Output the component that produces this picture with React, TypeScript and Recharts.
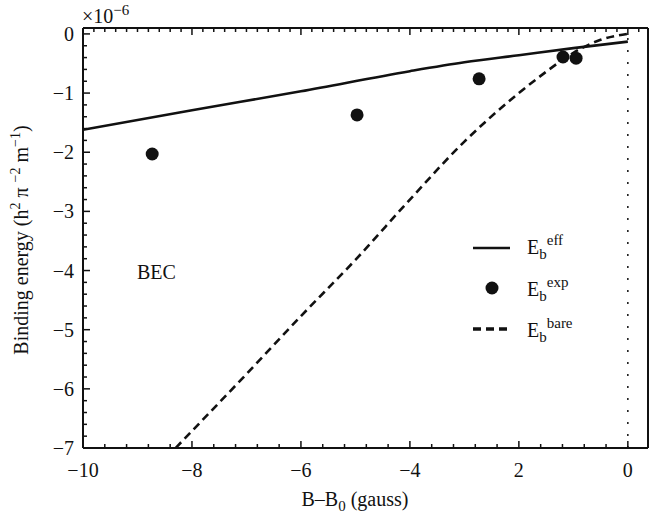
import React from "react";
import { ComposedChart, Line, Scatter, XAxis, YAxis, ReferenceLine } from "recharts";

// ---- data ----
const effX = [-10, -8, -6, -4, -3, -2, -1, 0];
const effY = [-1.62, -1.29, -0.97, -0.63, -0.48, -0.36, -0.24, -0.13];

const bareX = [-8.3, -7, -6, -5, -4, -3, -2, -1.5, -1, -0.5, 0];
const bareY = [-7, -5.75, -4.77, -3.82, -2.8, -1.82, -1.0, -0.64, -0.32, -0.1, 0];

const expX = [-8.73, -4.97, -2.73, -1.19, -0.95];
const expY = [-2.03, -1.37, -0.76, -0.39, -0.41];

const xMajor = [-10, -8, -6, -4, -2, 0];
const xTickLabels = ["\u221210", "\u22128", "\u22126", "\u22124", "2", "0"];
const yMajor = [-7, -6, -5, -4, -3, -2, -1, 0];
const yTickLabels = ["\u22127", "\u22126", "\u22125", "\u22124", "\u22123", "\u22122", "\u22121", "0"];

const X_DOMAIN: [number, number] = [-10, 0.37];
const Y_DOMAIN: [number, number] = [-7, 0.1];

// tick step sets
const steps = (from: number, to: number, step: number) =>
  Array.from({ length: Math.round((to - from) / step) + 1 }, (_, i) => +(from + i * step).toFixed(4));
const xBottomMinor = steps(-10, 0.2, 0.4);
const xTopMinor = steps(-10, 0.2, 0.2);
const yLeftMinor = steps(-7, 0, 0.2);

const effData = effX.map((x, i) => ({ x, y: effY[i] }));
const bareData = bareX.map((x, i) => ({ x, y: bareY[i] }));
const expData = expX.map((x, i) => ({ x, y: expY[i] }));

// ---- layout ----
const W = 650;
const H = 518;
const AX = 1;
const PLOT_TOP = 28;
const PLOT_BOTTOM = 448;
const PLOT_LEFT = 83;
const PLOT_RIGHT = 648;
const M = {
  top: PLOT_TOP - AX,
  right: W - PLOT_RIGHT - AX,
  bottom: H - PLOT_BOTTOM - AX,
  left: PLOT_LEFT - AX,
};
const FONT = "'Liberation Serif', 'Times New Roman', serif";
const INK = "#111";
const TXT: React.CSSProperties = { fontFamily: FONT };

const PX_PER_X = (PLOT_RIGHT - PLOT_LEFT) / (X_DOMAIN[1] - X_DOMAIN[0]);
const PX_PER_Y = (PLOT_BOTTOM - PLOT_TOP) / (Y_DOMAIN[1] - Y_DOMAIN[0]);
const MAJ = 7;
const MIN = 4;
const TW = 1.5;

const isMajor = (arr: number[], v: number) => arr.some((m) => Math.abs(m - v) < 1e-6);
const majorIndex = (arr: number[], v: number) => arr.findIndex((m) => Math.abs(m - v) < 1e-6);

const BottomLabel = (props: any) => {
  const idx = majorIndex(xMajor, props.payload.value);
  if (idx < 0) return <g />;
  return (
    <text x={Number(props.x)} y={PLOT_BOTTOM + 29} textAnchor="middle" style={TXT} fontSize={20} fill={INK}>
      {xTickLabels[idx]}
    </text>
  );
};

const LeftLabel = (props: any) => {
  const idx = majorIndex(yMajor, props.payload.value);
  if (idx < 0) return <g />;
  return (
    <text x={PLOT_LEFT - 9} y={Number(props.y) + 7} textAnchor="end" style={TXT} fontSize={20} fill={INK}>
      {yTickLabels[idx]}
    </text>
  );
};

const Dot = (props: any) => {
  const { cx, cy } = props;
  return <circle cx={cx} cy={cy} r={6.5} fill={INK} />;
};

const tickLine = (key: string, a: { x: number; y: number }, b: { x: number; y: number }) => (
  <Line
    key={key}
    data={[a, b]}
    dataKey="y"
    type="linear"
    stroke={INK}
    strokeWidth={TW}
    dot={false}
    activeDot={false}
    legendType="none"
    isAnimationActive={false}
  />
);

export default function App() {
  const uniq = (a: number[]) => Array.from(new Set(a));
  const bottomTicks = uniq([...xBottomMinor, ...xMajor]).map((v) => {
    const len = (isMajor(xMajor, v) ? MAJ : MIN) / PX_PER_Y;
    return tickLine("b" + v, { x: v, y: Y_DOMAIN[0] }, { x: v, y: Y_DOMAIN[0] + len });
  });
  const topTicks = uniq([...xTopMinor, ...xMajor]).map((v) => {
    const len = (isMajor(xMajor, v) ? MAJ : MIN) / PX_PER_Y;
    return tickLine("t" + v, { x: v, y: Y_DOMAIN[1] }, { x: v, y: Y_DOMAIN[1] - len });
  });
  const leftTicks = uniq([...yLeftMinor, ...yMajor]).map((v) => {
    const len = (isMajor(yMajor, v) ? MAJ : MIN) / PX_PER_X;
    return tickLine("l" + v, { x: X_DOMAIN[0], y: v }, { x: X_DOMAIN[0] + len, y: v });
  });

  return (
    <div style={{ position: "relative", width: W, height: H, background: "#fff" }}>
      <style>{"body{margin:0;background:#fff}"}</style>
      <ComposedChart width={W} height={H} margin={M}>
        <XAxis
          xAxisId={0}
          dataKey="x"
          type="number"
          domain={X_DOMAIN}
          allowDataOverflow
          ticks={xMajor}
          interval={0}
          height={AX}
          tickLine={false}
          tickSize={0}
          tickMargin={0}
          tick={<BottomLabel />}
          axisLine={{ stroke: INK, strokeWidth: 2 }}
        />
        <XAxis
          xAxisId="top"
          orientation="top"
          type="number"
          domain={X_DOMAIN}
          allowDataOverflow
          height={AX}
          tick={false}
          tickLine={false}
          axisLine={{ stroke: INK, strokeWidth: 2 }}
        />
        <YAxis
          yAxisId={0}
          dataKey="y"
          type="number"
          domain={Y_DOMAIN}
          allowDataOverflow
          ticks={yMajor}
          interval={0}
          width={AX}
          tickLine={false}
          tickSize={0}
          tickMargin={0}
          tick={<LeftLabel />}
          axisLine={{ stroke: INK, strokeWidth: 2 }}
        />
        <YAxis
          yAxisId="right"
          orientation="right"
          type="number"
          domain={Y_DOMAIN}
          allowDataOverflow
          width={AX}
          tick={false}
          tickLine={false}
          axisLine={{ stroke: INK, strokeWidth: 2 }}
        />
        <ReferenceLine x={0} stroke={INK} strokeWidth={1.5} strokeDasharray="2 10" />
        {bottomTicks}
        {topTicks}
        {leftTicks}
        <Line
          data={effData}
          dataKey="y"
          type="monotone"
          stroke={INK}
          strokeWidth={2.6}
          dot={false}
          activeDot={false}
          isAnimationActive={false}
        />
        <Line
          data={bareData}
          dataKey="y"
          type="monotone"
          stroke={INK}
          strokeWidth={2.6}
          strokeDasharray="8 5"
          dot={false}
          activeDot={false}
          isAnimationActive={false}
        />
        <Scatter data={expData} dataKey="y" shape={<Dot />} isAnimationActive={false} />
      </ComposedChart>

      <svg
        width={W}
        height={H}
        style={{ position: "absolute", left: 0, top: 0, pointerEvents: "none", fontFamily: FONT }}
        fill={INK}
      >
        {/* exponent */}
        <text x={82} y={23} fontSize={20} style={TXT}>
          {"\u00d710"}
          <tspan fontSize={15} dy={-8}>{"\u22126"}</tspan>
        </text>
        {/* BEC */}
        <text x={137} y={279} fontSize={20} style={TXT}>BEC</text>
        {/* legend */}
        <line x1={473} x2={510} y1={248} y2={248} stroke={INK} strokeWidth={2.6} />
        <text x={527} y={254} fontSize={20} style={TXT}>
          E<tspan fontSize={15} dy={5}>b</tspan>
          <tspan fontSize={15} dy={-14}>eff</tspan>
        </text>
        <circle cx={492} cy={288} r={6.5} fill={INK} />
        <text x={527} y={296} fontSize={20} style={TXT}>
          E<tspan fontSize={15} dy={5}>b</tspan>
          <tspan fontSize={15} dy={-14}>exp</tspan>
        </text>
        <line x1={473} x2={511} y1={329} y2={329} stroke={INK} strokeWidth={3.5} strokeDasharray="8 5" />
        <text x={527} y={337} fontSize={20} style={TXT}>
          E<tspan fontSize={15} dy={5}>b</tspan>
          <tspan fontSize={15} dy={-14}>bare</tspan>
        </text>
        {/* x label */}
        <text x={355} y={506} fontSize={20} textAnchor="middle" style={TXT}>
          B{"\u2013"}B<tspan fontSize={15} dy={5}>0</tspan>
          <tspan dy={-5}>{" (gauss)"}</tspan>
        </text>
        {/* y label */}
        <text transform="translate(28,240) rotate(-90)" fontSize={20} textAnchor="middle" style={TXT}>
          {"Binding energy  (h"}
          <tspan fontSize={14} dy={-8}>2</tspan>
          <tspan dy={8}>{" \u03c0 "}</tspan>
          <tspan fontSize={14} dy={-8}>{"\u22122"}</tspan>
          <tspan dy={8}>{" m"}</tspan>
          <tspan fontSize={14} dy={-8}>{"\u22121"}</tspan>
          <tspan dy={8}>)</tspan>
        </text>
      </svg>
    </div>
  );
}
